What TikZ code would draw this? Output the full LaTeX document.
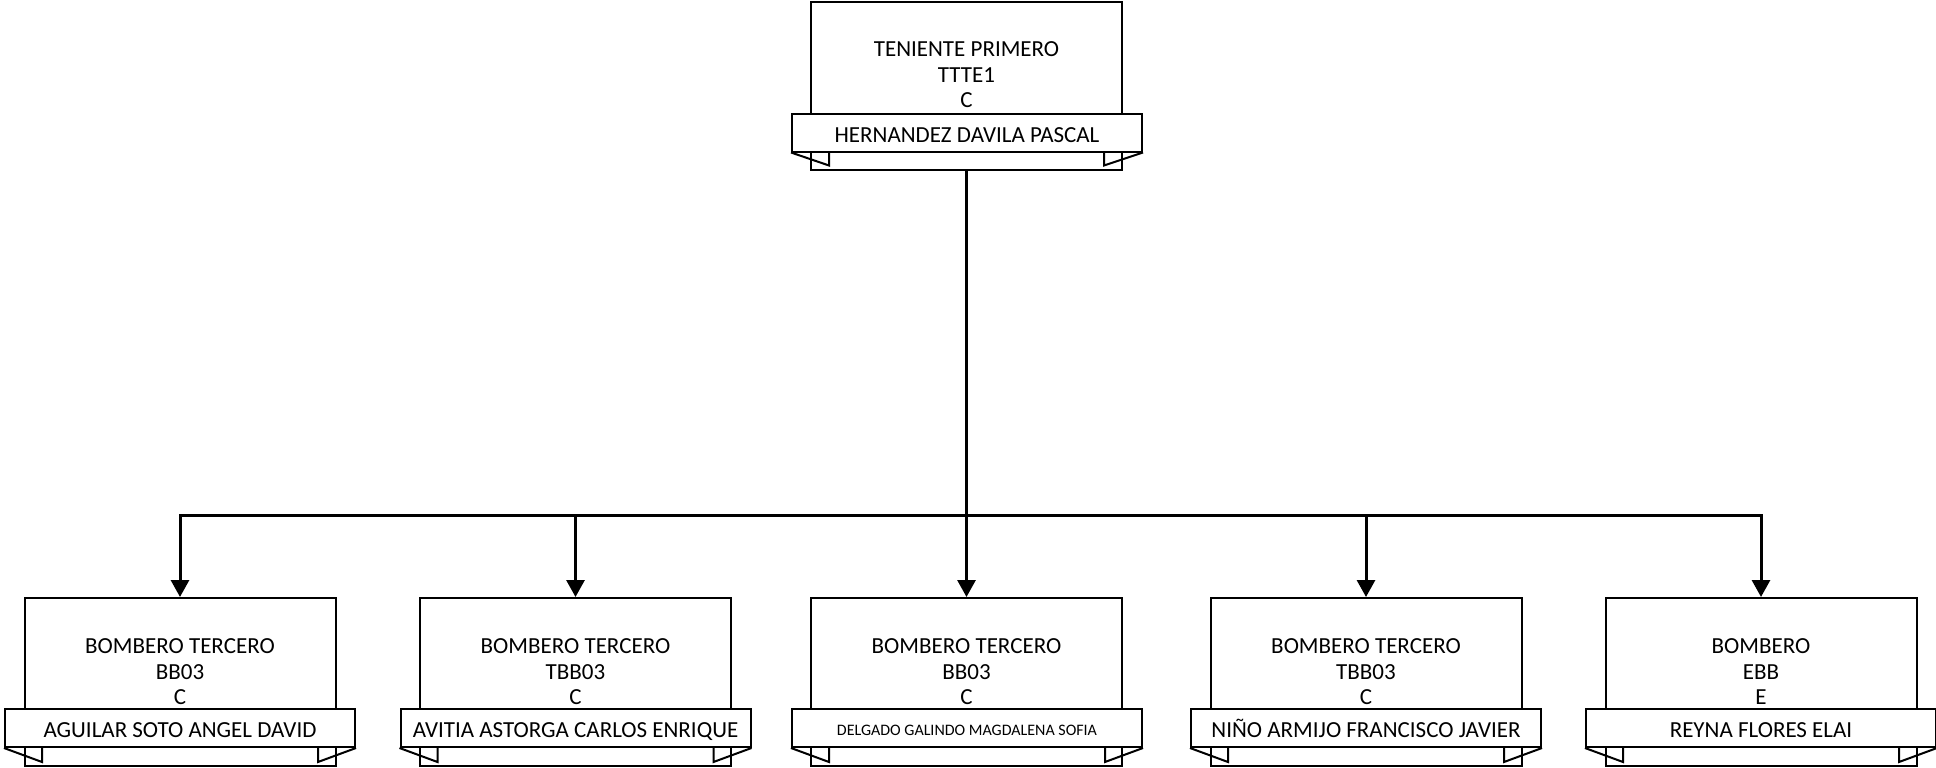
\documentclass[tikz,border=0pt]{standalone}
\usepackage{fontspec}
\setmainfont{Carlito}
\usetikzlibrary{arrows.meta}
\tikzset{
  cargo/.style={draw, line width=2pt, minimum width=311pt, minimum height=168pt, inner sep=0pt},
  rotulo/.style={align=center, font=\fontsize{23}{25.5}\selectfont, inner sep=0pt},
  banda/.style={draw, fill=white, line width=2pt, minimum width=350pt, minimum height=38pt, inner sep=0pt, text height=19pt, text depth=0pt, font=\fontsize{23}{25}\selectfont},
  pliegue/.style={line width=2pt},
  enlace/.style={line width=3pt},
  flecha/.style={line width=3pt, -{Triangle[width=18pt,length=17pt]}}
}
\begin{document}
\begin{tikzpicture}[x=1pt,y=-1pt]
\useasboundingbox (0,0) rectangle (1936,768);
% teniente primero
\node[cargo] (t) at (966.5,86){};
\node[rotulo] (tr) at ([yshift=11pt]t.center){TENIENTE PRIMERO\\TTTE1\\C};
\node[banda] (tn) at (967,132.5){HERNANDEZ DAVILA PASCAL};
\draw[pliegue](tn.south west) -- ++(38,13) -- ++(0,-13);
\draw[pliegue](tn.south east) -- ++(-39,13) -- ++(0,-13);
% bomberos
\node[cargo] (b1) at (180,682){};
\node[rotulo] (br1) at ([yshift=10pt]b1.center){BOMBERO TERCERO\\BB03\\C};
\node[banda] (bn1) at (180,728){AGUILAR SOTO ANGEL DAVID};
\draw[pliegue](bn1.south west) -- ++(38,14) -- ++(0,-14);
\draw[pliegue](bn1.south east) -- ++(-38,14) -- ++(0,-14);
\node[cargo] (b2) at (575.5,682){};
\node[rotulo] (br2) at ([yshift=10pt]b2.center){BOMBERO TERCERO\\TBB03\\C};
\node[banda] (bn2) at (575.5,728){AVITIA ASTORGA CARLOS ENRIQUE};
\draw[pliegue](bn2.south west) -- ++(38,14) -- ++(0,-14);
\draw[pliegue](bn2.south east) -- ++(-38,14) -- ++(0,-14);
\node[cargo] (b3) at (966.5,682){};
\node[rotulo] (br3) at ([yshift=10pt]b3.center){BOMBERO TERCERO\\BB03\\C};
\node[banda, text height=15pt, font=\fontsize{16}{18}\selectfont] (bn3) at (967,728){DELGADO GALINDO MAGDALENA SOFIA};
\draw[pliegue](bn3.south west) -- ++(38,14) -- ++(0,-14);
\draw[pliegue](bn3.south east) -- ++(-38,14) -- ++(0,-14);
\node[cargo] (b4) at (1366,682){};
\node[rotulo] (br4) at ([yshift=10pt]b4.center){BOMBERO TERCERO\\TBB03\\C};
\node[banda] (bn4) at (1366,728){NIÑO ARMIJO FRANCISCO JAVIER};
\draw[pliegue](bn4.south west) -- ++(38,14) -- ++(0,-14);
\draw[pliegue](bn4.south east) -- ++(-38,14) -- ++(0,-14);
\node[cargo] (b5) at (1761,682){};
\node[rotulo] (br5) at ([yshift=10pt]b5.center){BOMBERO\\EBB\\E};
\node[banda] (bn5) at (1761,728){REYNA FLORES ELAI};
\draw[pliegue](bn5.south west) -- ++(38,14) -- ++(0,-14);
\draw[pliegue](bn5.south east) -- ++(-38,14) -- ++(0,-14);
% conectores
\coordinate (bus) at (966.5,515);
\draw[enlace](t.south) -- (bus);
\draw[flecha](bus) -| (b1.north);
\draw[flecha](bus) -| (b2.north);
\draw[flecha](bus) -- (b3.north);
\draw[flecha](bus) -| (b4.north);
\draw[flecha](bus) -| (b5.north);
\end{tikzpicture}
\end{document}
